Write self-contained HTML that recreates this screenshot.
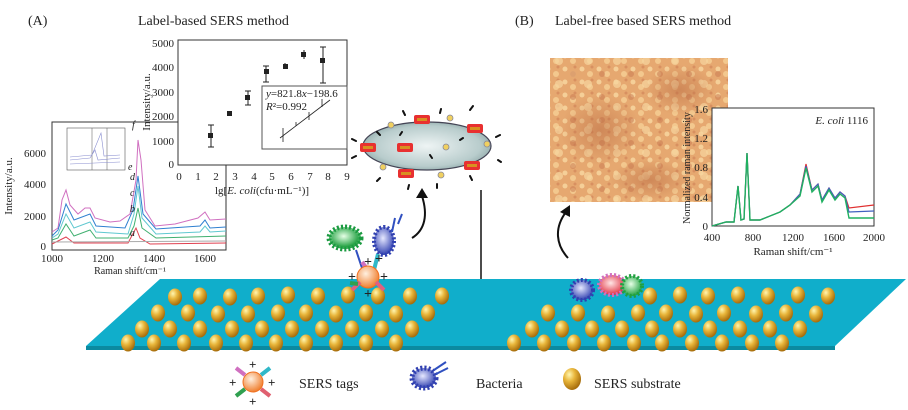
<!DOCTYPE html>
<html><head><meta charset="utf-8"><style>
html,body{margin:0;padding:0;background:#fff;}
svg{display:block;}
text{font-family:"Liberation Serif",serif;fill:#222;}
</style></head><body>
<svg width="908" height="410" viewBox="0 0 908 410" xmlns="http://www.w3.org/2000/svg">
<defs>
<radialGradient id="np" cx="35%" cy="30%" r="70%"><stop offset="0" stop-color="#fff6b0"/><stop offset="0.45" stop-color="#e8b53a"/><stop offset="1" stop-color="#a86e0c"/></radialGradient>
<radialGradient id="cell" cx="50%" cy="50%" r="60%"><stop offset="0" stop-color="#eef4f4"/><stop offset="0.7" stop-color="#b8cccc"/><stop offset="1" stop-color="#7e9a9a"/></radialGradient>
<radialGradient id="tag" cx="40%" cy="35%" r="65%"><stop offset="0" stop-color="#fff0e0"/><stop offset="1" stop-color="#f08030"/></radialGradient>
<radialGradient id="bb" cx="45%" cy="40%" r="60%"><stop offset="0" stop-color="#e6e8ff"/><stop offset="1" stop-color="#3040b0"/></radialGradient>
<radialGradient id="bg" cx="45%" cy="40%" r="60%"><stop offset="0" stop-color="#e6ffe6"/><stop offset="1" stop-color="#20a040"/></radialGradient>
<radialGradient id="br" cx="45%" cy="40%" r="60%"><stop offset="0" stop-color="#ffe6e6"/><stop offset="1" stop-color="#e03040"/></radialGradient>
<radialGradient id="dk" cx="50%" cy="50%" r="50%"><stop offset="0" stop-color="#b86840" stop-opacity="0.5"/><stop offset="1" stop-color="#b86840" stop-opacity="0"/></radialGradient>
<pattern id="micro" width="17" height="13" patternUnits="userSpaceOnUse">
<rect width="17" height="13" fill="#e6a870"/>
<circle cx="4" cy="4" r="2.5" fill="#f5cf98"/><circle cx="12" cy="9" r="3" fill="#f3c88e"/><circle cx="14" cy="2" r="1.5" fill="#d89060"/>
</pattern>
<pattern id="micro2" width="29" height="23" patternUnits="userSpaceOnUse">
<circle cx="8" cy="15" r="4" fill="#f7d6a0" opacity="0.7"/><circle cx="22" cy="5" r="3" fill="#c87850" opacity="0.5"/>
</pattern>
<g id="n"><ellipse cx="0" cy="0" rx="7" ry="8.5" fill="url(#np)"/></g>
</defs>

<text x="28" y="25" font-size="14">(A)</text>
<text x="138" y="25" font-size="14">Label-based SERS method</text>
<text x="515" y="25" font-size="14">(B)</text>
<text x="555" y="25" font-size="14">Label-free based SERS method</text>

<!-- Left spectrum chart -->
<rect x="52" y="122" width="174" height="128" fill="#fff" stroke="#333" stroke-width="1"/>
<g font-size="11" text-anchor="end"><text x="46" y="250">0</text><text x="46" y="220">2000</text><text x="46" y="188">4000</text><text x="46" y="157">6000</text></g>
<g font-size="11" text-anchor="middle"><text x="52" y="262">1000</text><text x="103" y="262">1200</text><text x="154" y="262">1400</text><text x="205" y="262">1600</text><text x="130" y="274" font-size="10">Raman shift/cm⁻¹</text></g>
<text transform="translate(12,186) rotate(-90)" font-size="11" text-anchor="middle">Intensity/a.u.</text>
<g fill="none" stroke-width="1">
<path d="M52,232 L58,228 62,200 66,190 70,205 78,214 85,208 90,208 95,218 110,222 120,221 130,214 136,180 138,140 141,160 145,210 155,226 175,224 198,218 205,212 210,220 226,219" stroke="#d070c0"/>
<path d="M52,236 L58,230 66,204 74,220 90,214 96,226 125,228 133,210 138,176 143,214 156,229 200,226 205,220 210,228 226,227" stroke="#3080d0"/>
<path d="M52,238 L58,234 66,214 74,228 90,222 96,232 128,234 134,214 138,186 142,218 156,234 200,232 205,226 210,232 226,231" stroke="#60c8d0"/>
<path d="M52,240 L58,238 66,224 74,236 90,230 96,238 128,238 134,226 138,208 142,228 156,238 226,236" stroke="#40b070"/>
<path d="M52,244 L66,237 74,243 128,243 136,228 140,238 150,244 226,243" stroke="#e04050"/>
<path d="M52,242 L226,241" stroke="#aaaaaa"/>
</g>
<g font-size="10" font-style="italic"><text x="132" y="128">f</text><text x="128" y="170">e</text><text x="130" y="180">d</text><text x="130" y="196">c</text><text x="130" y="212">b</text><text x="130" y="236">a</text></g>
<rect x="67" y="128" width="58" height="42" fill="#fff" stroke="#555" stroke-width="0.6"/>
<path d="M92,128V170M107,128V170" stroke="#555" stroke-width="0.5"/>
<path d="M70,160 L90,158 95,150 98,160 120,158 M70,164 L120,162 M70,157 L92,155 101,133 104,156 120,155" stroke="#8a8fd0" fill="none" stroke-width="0.6"/>

<!-- Scatter chart -->
<rect x="178" y="40" width="169" height="125" fill="#fff" stroke="#333"/>
<g font-size="11" text-anchor="end"><text x="174" y="168">0</text><text x="174" y="145">1000</text><text x="174" y="120">2000</text><text x="174" y="96">3000</text><text x="174" y="71">4000</text><text x="174" y="47">5000</text></g>
<g font-size="11" text-anchor="middle"><text x="179" y="180">0</text><text x="198" y="180">1</text><text x="216" y="180">2</text><text x="235" y="180">3</text><text x="254" y="180">4</text><text x="272" y="180">5</text><text x="291" y="180">6</text><text x="310" y="180">7</text><text x="328" y="180">8</text><text x="347" y="180">9</text></g>
<text x="262" y="194" font-size="11" text-anchor="middle">lg[<tspan font-style="italic">E. coli</tspan>(cfu·mL⁻¹)]</text>
<text transform="translate(150,102) rotate(-90)" font-size="11" text-anchor="middle">Intensity/a.u.</text>
<g stroke="#222" stroke-width="1"><path d="M211,125V147M208,125h6M208,147h6"/><path d="M229,113V116"/><path d="M248,91V105M245,91h6M245,105h6"/><path d="M266,66V82M263,66h6M263,82h6"/><path d="M285,63V69"/><path d="M304,50V59"/><path d="M323,47V83M320,47h6M320,83h6"/></g>
<g fill="#222"><rect x="208" y="133" width="5" height="5"/><rect x="227" y="111" width="5" height="5"/><rect x="245" y="95" width="5" height="5"/><rect x="264" y="69" width="5" height="5"/><rect x="283" y="64" width="5" height="5"/><rect x="301" y="52" width="5" height="5"/><rect x="320" y="58" width="5" height="5"/></g>
<rect x="262" y="86" width="85" height="63" fill="#fff" stroke="#555"/>
<text x="266" y="97" font-size="11"><tspan font-style="italic">y</tspan>=821.8<tspan font-style="italic">x</tspan>−198.6</text>
<text x="266" y="110" font-size="11"><tspan font-style="italic">R</tspan>²=0.992</text>
<path d="M280,138 L330,100" stroke="#222" stroke-width="0.8"/>
<path d="M283,128V142M296,122V126M309,112V120M322,99V107" stroke="#222" stroke-width="0.8"/>

<!-- Bacterium with tags (top) -->
<ellipse cx="427" cy="146" rx="64" ry="24" fill="url(#cell)" stroke="#445" stroke-width="1.2"/>
<g fill="#e83030"><rect x="414" y="115" width="16" height="9" rx="2"/><rect x="397" y="143" width="16" height="9" rx="2"/><rect x="360" y="143" width="16" height="9" rx="2"/><rect x="467" y="124" width="16" height="9" rx="2"/><rect x="464" y="161" width="16" height="9" rx="2"/><rect x="398" y="169" width="16" height="9" rx="2"/></g>
<g fill="#d89020"><rect x="417" y="118" width="10" height="3"/><rect x="400" y="146" width="10" height="3"/><rect x="363" y="146" width="10" height="3"/><rect x="470" y="127" width="10" height="3"/><rect x="467" y="164" width="10" height="3"/><rect x="401" y="172" width="10" height="3"/></g>
<g fill="#f0d060" stroke="#889" stroke-width="0.8"><circle cx="391" cy="125" r="3"/><circle cx="450" cy="118" r="3"/><circle cx="446" cy="147" r="3"/><circle cx="487" cy="144" r="3"/><circle cx="383" cy="167" r="3"/><circle cx="441" cy="175" r="3"/></g>
<g stroke="#111" stroke-width="2" fill="none" stroke-linecap="round"><path d="M356,141l-4,-2M380,135l-3,-3M405,115l-2,-4M440,113l1,-4M470,110l3,-4M496,137l4,-2M498,160l3,2M470,176l2,4M437,184l0,4M409,185l-1,4M380,178l-3,3M356,156l-4,2M400,135l2,-3M430,155l2,3M460,140l3,-2"/></g>

<!-- Arrows -->
<path d="M412,238 C425,230 428,215 422,196" stroke="#111" stroke-width="2" fill="none"/>
<path d="M416,198 L422,188 L428,198 Z" fill="#111"/>
<path d="M568,258 C556,245 554,228 566,212" stroke="#111" stroke-width="2" fill="none"/>
<path d="M560,212 L570,205 L570,217 Z" fill="#111"/>
<path d="M481,190V300" stroke="#111" stroke-width="1.5"/>

<!-- Microscopy image -->
<rect x="550" y="58" width="178" height="144" fill="url(#micro)"/>
<rect x="550" y="58" width="178" height="144" fill="url(#micro2)"/>
<ellipse cx="600" cy="130" rx="40" ry="35" fill="url(#dk)"/>
<ellipse cx="680" cy="90" rx="35" ry="25" fill="url(#dk)"/>
<ellipse cx="650" cy="180" rx="40" ry="20" fill="url(#dk)"/>

<!-- Right chart -->
<rect x="712" y="108" width="162" height="118" fill="#fff" stroke="#333"/>
<g font-size="11" text-anchor="end"><text x="708" y="230">0</text><text x="708" y="201">0.4</text><text x="708" y="171">0.8</text><text x="708" y="142">1.2</text><text x="708" y="113">1.6</text></g>
<g font-size="11" text-anchor="middle"><text x="712" y="241">400</text><text x="753" y="241">800</text><text x="793" y="241">1200</text><text x="834" y="241">1600</text><text x="874" y="241">2000</text><text x="793" y="255">Raman shift/cm⁻¹</text></g>
<text transform="translate(690,168) rotate(-90)" font-size="10" text-anchor="middle">Normalized raman intensity</text>
<text x="868" y="124" font-size="11" text-anchor="end"><tspan font-style="italic">E. coli</tspan> 1116</text>
<path d="M712,226 L726,222 734,222 738,186 741,220 744,219 747,153 750,220 760,220 770,216 780,212 790,205 800,194 806,164 812,190 818,184 822,200 829,188 835,198 840,192 845,196 849,208 874,205" stroke="#e03030" fill="none" stroke-width="1.2"/>
<path d="M712,226 L726,222 734,222 738,186 741,220 744,219 747,153 750,220 760,220 770,216 780,212 790,205 800,194 806,166 812,190 818,184 822,200 829,188 835,198 840,192 845,196 849,212 874,211" stroke="#4060c0" fill="none" stroke-width="1.2"/>
<path d="M712,226 L726,222 734,222 738,186 741,220 744,219 747,153 750,220 760,220 770,216 780,212 790,205 800,196 806,168 812,192 818,186 822,202 829,190 835,200 840,194 845,198 849,218 874,218" stroke="#20b060" fill="none" stroke-width="1.4"/>

<!-- Substrate -->
<path d="M160,279 L906,279 L835,346 L86,346 Z" fill="#10aecb"/>
<path d="M86,346 L835,346 L835,350 L86,350 Z" fill="#0b8aa0"/>
<g>
<use href="#n" x="175" y="297"/><use href="#n" x="200" y="296"/><use href="#n" x="230" y="297"/><use href="#n" x="258" y="296"/><use href="#n" x="288" y="295"/><use href="#n" x="318" y="296"/><use href="#n" x="348" y="295"/><use href="#n" x="378" y="296"/><use href="#n" x="410" y="296"/><use href="#n" x="442" y="296"/>
<use href="#n" x="158" y="313"/><use href="#n" x="188" y="313"/><use href="#n" x="218" y="314"/><use href="#n" x="248" y="314"/><use href="#n" x="278" y="313"/><use href="#n" x="306" y="313"/><use href="#n" x="336" y="314"/><use href="#n" x="366" y="313"/><use href="#n" x="396" y="314"/><use href="#n" x="428" y="313"/>
<use href="#n" x="142" y="329"/><use href="#n" x="170" y="329"/><use href="#n" x="200" y="329"/><use href="#n" x="232" y="329"/><use href="#n" x="262" y="329"/><use href="#n" x="292" y="329"/><use href="#n" x="322" y="329"/><use href="#n" x="352" y="329"/><use href="#n" x="382" y="329"/><use href="#n" x="412" y="329"/>
<use href="#n" x="128" y="343"/><use href="#n" x="154" y="343"/><use href="#n" x="184" y="343"/><use href="#n" x="216" y="343"/><use href="#n" x="246" y="343"/><use href="#n" x="276" y="343"/><use href="#n" x="306" y="343"/><use href="#n" x="336" y="343"/><use href="#n" x="366" y="343"/><use href="#n" x="396" y="343"/>
<use href="#n" x="650" y="296"/><use href="#n" x="680" y="295"/><use href="#n" x="708" y="296"/><use href="#n" x="738" y="295"/><use href="#n" x="768" y="296"/><use href="#n" x="798" y="295"/><use href="#n" x="828" y="296"/>
<use href="#n" x="548" y="313"/><use href="#n" x="578" y="313"/><use href="#n" x="608" y="314"/><use href="#n" x="638" y="313"/><use href="#n" x="666" y="313"/><use href="#n" x="696" y="314"/><use href="#n" x="724" y="313"/><use href="#n" x="756" y="314"/><use href="#n" x="786" y="313"/><use href="#n" x="816" y="314"/>
<use href="#n" x="532" y="329"/><use href="#n" x="562" y="329"/><use href="#n" x="592" y="329"/><use href="#n" x="622" y="329"/><use href="#n" x="652" y="329"/><use href="#n" x="680" y="329"/><use href="#n" x="710" y="329"/><use href="#n" x="740" y="329"/><use href="#n" x="770" y="329"/><use href="#n" x="800" y="329"/>
<use href="#n" x="514" y="343"/><use href="#n" x="544" y="343"/><use href="#n" x="574" y="343"/><use href="#n" x="604" y="343"/><use href="#n" x="634" y="343"/><use href="#n" x="662" y="343"/><use href="#n" x="692" y="343"/><use href="#n" x="722" y="343"/><use href="#n" x="752" y="343"/><use href="#n" x="782" y="343"/>
</g>

<!-- Label-based complex on substrate -->
<ellipse cx="345" cy="238" rx="16" ry="11" fill="url(#bg)" stroke="#1a9a40" stroke-dasharray="2 2" stroke-width="5"/>
<ellipse cx="345" cy="238" rx="13" ry="9" fill="url(#bg)"/>
<ellipse cx="384" cy="241" rx="10" ry="14" fill="url(#bb)" stroke="#3040b0" stroke-width="4" stroke-dasharray="2 2"/>
<path d="M356,250 L362,268 M392,232 L395,218 M398,224 L402,214" stroke="#3050c0" stroke-width="2" fill="none"/>
<path d="M362,262 L368,270" stroke="#d070c0" stroke-width="4"/>
<path d="M378,254 L374,270" stroke="#30b8c8" stroke-width="4"/>
<circle cx="368" cy="277" r="11" fill="url(#tag)" stroke="#f07020"/>
<path d="M352,290 L360,282 M384,290 L376,282" stroke="#e06080" stroke-width="4"/>
<path d="M350,283 L358,284" stroke="#30a050" stroke-width="4"/>
<g fill="#e82020" font-family="Liberation Sans,sans-serif" font-size="14" font-weight="bold"><text x="348" y="281">+</text><text x="380" y="281">+</text><text x="364" y="266">+</text><text x="364" y="298">+</text><text x="375" y="263">+</text></g>

<!-- Label-free complex -->
<ellipse cx="612" cy="285" rx="13" ry="10" fill="url(#br)" stroke="#d070c0" stroke-width="4" stroke-dasharray="2 2"/>
<ellipse cx="582" cy="290" rx="11" ry="10" fill="url(#bb)" stroke="#3040b0" stroke-width="4" stroke-dasharray="2 2"/>
<ellipse cx="632" cy="286" rx="10" ry="10" fill="url(#bg)" stroke="#20a040" stroke-width="4" stroke-dasharray="2 2"/>

<!-- Legend -->
<circle cx="253" cy="382" r="10" fill="url(#tag)" stroke="#f07020"/>
<path d="M236,368 L245,375" stroke-width="4" stroke="#d070c0"/>
<path d="M270,368 L261,375" stroke="#30b8c8" stroke-width="4"/><path d="M236,396 L245,389" stroke="#30a050" stroke-width="4"/><path d="M270,396 L261,389" stroke="#e06070" stroke-width="4"/>
<g fill="#e82020" font-family="Liberation Sans,sans-serif" font-size="13" font-weight="bold"><text x="249" y="369">+</text><text x="249" y="406">+</text><text x="229" y="387">+</text><text x="268" y="387">+</text></g>
<text x="299" y="388" font-size="14">SERS tags</text>
<ellipse cx="424" cy="378" rx="12" ry="10" fill="url(#bb)" stroke="#3040b0" stroke-width="5" stroke-dasharray="2 2"/>
<path d="M434,370 L446,362 M436,374 L448,368" stroke="#3050c0" stroke-width="2"/>
<text x="476" y="388" font-size="14">Bacteria</text>
<ellipse cx="572" cy="379" rx="9" ry="11" fill="url(#np)"/>
<text x="594" y="388" font-size="14">SERS substrate</text>
</svg>
</body></html>
